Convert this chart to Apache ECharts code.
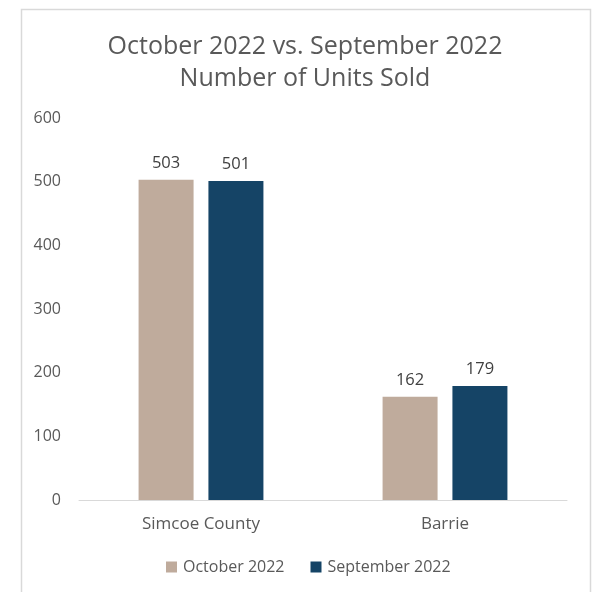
<!DOCTYPE html>
<html>
<head>
<meta charset="utf-8">
<script src="https://cdn.jsdelivr.net/npm/echarts@6/dist/echarts.min.js"></script>
<style>html,body{margin:0;padding:0;background:#fff}#c{width:592px;height:592px}</style>
</head>
<body>
<div id="c"></div>
<script>
var titleLines = ['October 2022 vs. September 2022', 'Number of Units Sold'];
var categories = ['Simcoe County', 'Barrie'];
var seriesNames = ['October 2022', 'September 2022'];
var october2022 = [503, 162];
var september2022 = [501, 179];
var yTicks = [0, 100, 200, 300, 400, 500, 600];

var FONT = '"Open Sans", sans-serif';
var chart = echarts.init(document.getElementById('c'), null, {renderer: 'canvas'});
chart.setOption({
  backgroundColor: '#fff',
  animation: false,
  graphic: [{
    type: 'rect', left: 19, top: 7, z: -1,
    shape: {width: 569, height: 600},
    style: {fill: 'none', stroke: '#d9d9d9', lineWidth: 1.5}
  }],
  title: {
    text: titleLines.join('\n'),
    left: 300, top: 26, textAlign: 'center',
    textStyle: {fontFamily: FONT, fontSize: 25, fontWeight: 'normal', color: '#595959', lineHeight: 32}
  },
  legend: {
    data: seriesNames, bottom: 12, left: 161, itemWidth: 11, itemHeight: 11, itemGap: 26,
    icon: 'rect',
    textStyle: {fontFamily: FONT, fontSize: 16, color: '#595959', padding: [0, 0, 0, 1]}
  },
  grid: {left: 79, right: 25, top: 118, bottom: 92},
  xAxis: {
    type: 'category', data: categories,
    axisLine: {lineStyle: {color: '#d9d9d9', width: 1}},
    axisTick: {show: false},
    axisLabel: {fontFamily: FONT, fontSize: 17, color: '#595959', margin: 16}
  },
  yAxis: {
    type: 'value', min: yTicks[0], max: yTicks[yTicks.length - 1], interval: 100,
    splitLine: {show: false},
    axisLine: {show: false}, axisTick: {show: false},
    axisLabel: {fontFamily: FONT, fontSize: 16, color: '#595959', margin: 18}
  },
  series: [{
    name: seriesNames[0], type: 'bar', data: october2022,
    barWidth: 55, barGap: '27%',
    itemStyle: {color: '#bfab9c'},
    label: {show: true, position: 'top', distance: 8, fontFamily: FONT, fontSize: 16.5, color: '#404040'}
  }, {
    name: seriesNames[1], type: 'bar', data: september2022,
    barWidth: 55,
    itemStyle: {color: '#154466'},
    label: {show: true, position: 'top', distance: 8, fontFamily: FONT, fontSize: 16.5, color: '#404040'}
  }]
});
</script>
</body>
</html>
